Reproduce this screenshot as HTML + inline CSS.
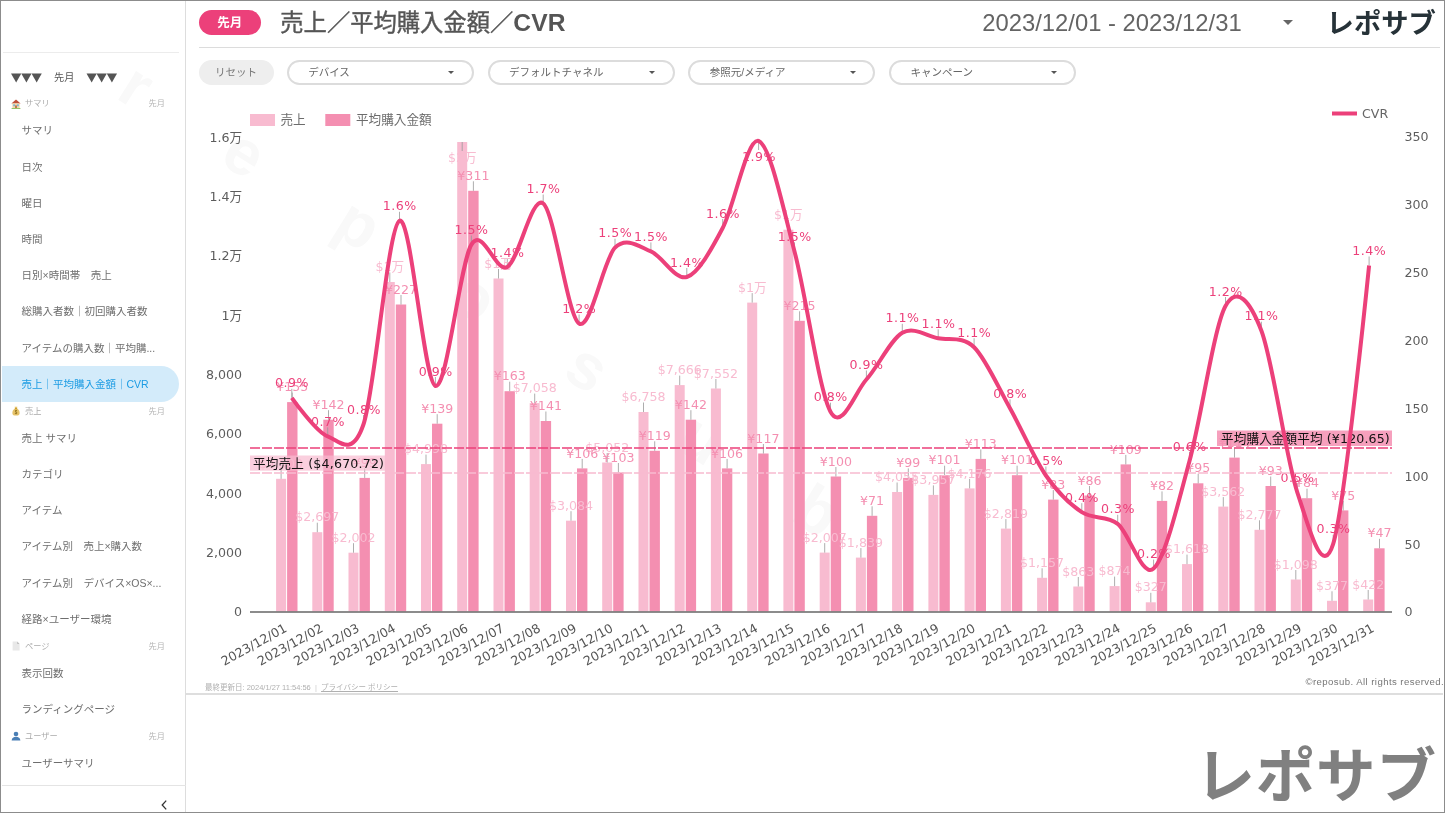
<!DOCTYPE html>
<html lang="ja"><head><meta charset="utf-8"><title>売上／平均購入金額／CVR</title>
<style>
*{box-sizing:border-box;margin:0;padding:0}
html,body{width:1445px;height:813px;overflow:hidden;background:#fff}
body{position:relative;font-family:"Liberation Sans","Noto Sans CJK JP",sans-serif;color:#666}
.abs{position:absolute}
.frame{position:absolute;left:0;top:0;width:1445px;height:813px;border-style:solid;border-color:#8c8c8c;border-width:1.2px 1.7px 1.6px 1.5px;pointer-events:none;z-index:50}
.wmk{position:absolute;left:0;top:0;z-index:0}
.side{position:absolute;left:0;top:0;width:186px;height:813px;border-right:1px solid #ddd;z-index:2}
.side .hr1{position:absolute;left:3px;top:52px;width:176px;height:1px;background:#ececec}
.side .hr2{position:absolute;left:2px;top:784.6px;width:184px;height:1px;background:#e4e4e4}
.side .hd{position:absolute;left:11px;top:66.6px;font-size:10.2px;line-height:20px;color:#555;white-space:nowrap}
  .tri{display:inline-block;transform:scaleY(.88);font-family:"DejaVu Sans",sans-serif;font-size:13.4px;letter-spacing:-.1px;position:relative;top:.5px}
.hm{margin:0 12px 0 12.4px}
.side .list{position:absolute;left:0;top:94.7px;width:186px}
.sec{height:17.8px;position:relative;font-size:8.2px;line-height:18px;color:#aaa;white-space:nowrap}
.sec .ic{position:absolute;left:11px;top:4px;width:10px;height:10px}
.sec .st{position:absolute;left:25px;top:.8px}
.sec .sm{position:absolute;left:148.6px;top:.8px;color:#b5b5b5}
.it{height:36.2px;line-height:36.3px;padding-left:21.5px;font-size:10.5px;color:#6e6e6e;white-space:nowrap}
.it.act{background:#d3ebfa;color:#1a9be3;line-height:36.8px;width:177px;margin-left:2px;padding-left:19.5px;border-radius:0 18px 18px 0}
.chev{position:absolute;left:159px;top:798px;width:10px;height:14px}
.badge{position:absolute;left:198.5px;top:9.6px;width:62.5px;height:25px;border-radius:13px;background:#EC407A;color:#fff;font-weight:bold;font-size:12.5px;line-height:27.2px;text-align:center}
.title{position:absolute;left:280.3px;top:5px;font-size:23.3px;line-height:36px;color:#555;white-space:nowrap;font-weight:400;-webkit-text-stroke:.4px #555}
.title b{font-weight:bold;font-size:24.6px;letter-spacing:.2px;-webkit-text-stroke:0}
.date{position:absolute;left:982.3px;top:4.5px;font-size:23.8px;line-height:36px;color:#646464;white-space:nowrap}
.caret{position:absolute;width:0;height:0;border-style:solid;border-color:#666 transparent transparent transparent}
.logo{position:absolute;left:1326.6px;top:4px;font-size:27.3px;line-height:40px;font-weight:bold;color:#263238;white-space:nowrap}
.hline{position:absolute;left:198.5px;top:46.8px;width:1241px;height:1.2px;background:#dcdcdc}
.reset{position:absolute;left:198.5px;top:60.2px;width:75px;height:24.5px;border-radius:13px;background:#eee;color:#777;font-size:10.5px;line-height:25.2px;text-align:center}
.dd{position:absolute;top:60px;width:187px;height:24.6px;border:2px solid #dcdcdc;border-radius:13px;font-size:10.5px;line-height:20px;color:#666;padding-left:19.5px;white-space:nowrap;background:#fff}
.dd i{position:absolute;left:159.5px;top:9px;width:0;height:0;border-style:solid;border-width:3px 3px 0 3px;border-color:#555 transparent transparent transparent}
.chart{position:absolute;left:0;top:0;z-index:1}
.foot{position:absolute;left:205px;top:681.5px;font-size:7.5px;line-height:12px;color:#b0b0b0;white-space:nowrap;z-index:3}
.foot u{text-decoration:underline}
.copy{position:absolute;left:1305.5px;top:675px;font-size:9.6px;line-height:14px;color:#777;white-space:nowrap;letter-spacing:.42px;z-index:3}
.fline{position:absolute;left:186px;top:693.4px;width:1257px;height:1.4px;background:#dedede;z-index:3}
.biglogo{position:absolute;left:1195.5px;top:739px;font-size:59.5px;letter-spacing:.8px;line-height:76px;font-weight:bold;color:#808080;white-space:nowrap;z-index:3}
</style></head><body>
<svg class="wmk" width="1445" height="813" viewBox="0 0 1445 813"><text transform="translate(114.6 97.5) rotate(32)" font-family="'Liberation Sans', sans-serif" font-weight="bold" font-size="64" letter-spacing="97" fill="#f9f9f9">reposub</text></svg>
<svg class="chart" width="1445" height="700" viewBox="0 0 1445 700" font-family="'DejaVu Sans', 'Noto Sans CJK JP', sans-serif" font-size="12.6">
<rect x="250" y="114" width="25" height="12" fill="#F8BBD0"/><text x="280.5" y="124.3" fill="#6c6c6c" class="jp">売上</text>
<rect x="325.3" y="114" width="25" height="12" fill="#F48FB1"/><text x="356" y="124.3" fill="#6c6c6c" class="jp">平均購入金額</text>
<line x1="1332" y1="113.5" x2="1357" y2="113.5" stroke="#EC407A" stroke-width="4"/><text x="1362" y="117.8" fill="#666">CVR</text>
<text x="242" y="616.3" text-anchor="end" fill="#5c5c5c">0</text>
<text x="242" y="557" text-anchor="end" fill="#5c5c5c">2,000</text>
<text x="242" y="497.6" text-anchor="end" fill="#5c5c5c">4,000</text>
<text x="242" y="438.3" text-anchor="end" fill="#5c5c5c">6,000</text>
<text x="242" y="378.9" text-anchor="end" fill="#5c5c5c">8,000</text>
<text x="242" y="319.6" text-anchor="end" fill="#5c5c5c">1万</text>
<text x="242" y="260.2" text-anchor="end" fill="#5c5c5c">1.2万</text>
<text x="242" y="200.9" text-anchor="end" fill="#5c5c5c">1.4万</text>
<text x="242" y="141.5" text-anchor="end" fill="#5c5c5c">1.6万</text>
<text x="1404.5" y="616.3" fill="#5c5c5c">0</text>
<text x="1404.5" y="548.5" fill="#5c5c5c">50</text>
<text x="1404.5" y="480.6" fill="#5c5c5c">100</text>
<text x="1404.5" y="412.8" fill="#5c5c5c">150</text>
<text x="1404.5" y="344.9" fill="#5c5c5c">200</text>
<text x="1404.5" y="277.1" fill="#5c5c5c">250</text>
<text x="1404.5" y="209.2" fill="#5c5c5c">300</text>
<text x="1404.5" y="141.4" fill="#5c5c5c">350</text>
<rect x="276.1" y="478.8" width="10" height="133.2" fill="#F8BBD0"/>
<rect x="287.1" y="402.1" width="10.4" height="209.9" fill="#F48FB1"/>
<rect x="312.3" y="532.2" width="10" height="79.8" fill="#F8BBD0"/>
<rect x="323.3" y="419.7" width="10.4" height="192.3" fill="#F48FB1"/>
<rect x="348.5" y="552.7" width="10" height="59.3" fill="#F8BBD0"/>
<rect x="359.5" y="477.9" width="10.4" height="134.1" fill="#F48FB1"/>
<rect x="384.8" y="282" width="10" height="330" fill="#F8BBD0"/>
<rect x="395.8" y="304.5" width="10.4" height="307.5" fill="#F48FB1"/>
<rect x="421" y="464.1" width="10" height="147.9" fill="#F8BBD0"/>
<rect x="432" y="423.7" width="10.4" height="188.3" fill="#F48FB1"/>
<rect x="457.2" y="142" width="10" height="470" fill="#F8BBD0"/>
<rect x="468.2" y="190.8" width="10.4" height="421.2" fill="#F48FB1"/>
<rect x="493.5" y="278.5" width="10" height="333.5" fill="#F8BBD0"/>
<rect x="504.5" y="391.2" width="10.4" height="220.8" fill="#F48FB1"/>
<rect x="529.7" y="403.1" width="10" height="208.9" fill="#F8BBD0"/>
<rect x="540.7" y="421" width="10.4" height="191" fill="#F48FB1"/>
<rect x="566" y="520.7" width="10" height="91.3" fill="#F8BBD0"/>
<rect x="577" y="468.4" width="10.4" height="143.6" fill="#F48FB1"/>
<rect x="602.2" y="462.5" width="10" height="149.5" fill="#F8BBD0"/>
<rect x="613.2" y="472.5" width="10.4" height="139.5" fill="#F48FB1"/>
<rect x="638.5" y="412" width="10" height="200" fill="#F8BBD0"/>
<rect x="649.5" y="450.8" width="10.4" height="161.2" fill="#F48FB1"/>
<rect x="674.7" y="385.1" width="10" height="226.9" fill="#F8BBD0"/>
<rect x="685.7" y="419.7" width="10.4" height="192.3" fill="#F48FB1"/>
<rect x="710.9" y="388.5" width="10" height="223.5" fill="#F8BBD0"/>
<rect x="721.9" y="468.4" width="10.4" height="143.6" fill="#F48FB1"/>
<rect x="747.2" y="302.6" width="10" height="309.4" fill="#F8BBD0"/>
<rect x="758.2" y="453.5" width="10.4" height="158.5" fill="#F48FB1"/>
<rect x="783.4" y="229.7" width="10" height="382.3" fill="#F8BBD0"/>
<rect x="794.4" y="320.8" width="10.4" height="291.2" fill="#F48FB1"/>
<rect x="819.7" y="552.6" width="10" height="59.4" fill="#F8BBD0"/>
<rect x="830.7" y="476.5" width="10.4" height="135.5" fill="#F48FB1"/>
<rect x="855.9" y="557.6" width="10" height="54.4" fill="#F8BBD0"/>
<rect x="866.9" y="515.8" width="10.4" height="96.2" fill="#F48FB1"/>
<rect x="892.1" y="492" width="10" height="120" fill="#F8BBD0"/>
<rect x="903.1" y="477.9" width="10.4" height="134.1" fill="#F48FB1"/>
<rect x="928.4" y="494.9" width="10" height="117.1" fill="#F8BBD0"/>
<rect x="939.4" y="475.2" width="10.4" height="136.8" fill="#F48FB1"/>
<rect x="964.6" y="488.4" width="10" height="123.6" fill="#F8BBD0"/>
<rect x="975.6" y="458.9" width="10.4" height="153.1" fill="#F48FB1"/>
<rect x="1000.9" y="528.6" width="10" height="83.4" fill="#F8BBD0"/>
<rect x="1011.9" y="475.2" width="10.4" height="136.8" fill="#F48FB1"/>
<rect x="1037.1" y="577.8" width="10" height="34.2" fill="#F8BBD0"/>
<rect x="1048.1" y="499.6" width="10.4" height="112.4" fill="#F48FB1"/>
<rect x="1073.3" y="586.5" width="10" height="25.5" fill="#F8BBD0"/>
<rect x="1084.3" y="495.5" width="10.4" height="116.5" fill="#F48FB1"/>
<rect x="1109.6" y="586.1" width="10" height="25.9" fill="#F8BBD0"/>
<rect x="1120.6" y="464.4" width="10.4" height="147.6" fill="#F48FB1"/>
<rect x="1145.8" y="602.3" width="10" height="9.7" fill="#F8BBD0"/>
<rect x="1156.8" y="500.9" width="10.4" height="111.1" fill="#F48FB1"/>
<rect x="1182" y="564.1" width="10" height="47.9" fill="#F8BBD0"/>
<rect x="1193" y="483.3" width="10.4" height="128.7" fill="#F48FB1"/>
<rect x="1218.3" y="506.6" width="10" height="105.4" fill="#F8BBD0"/>
<rect x="1229.3" y="457.6" width="10.4" height="154.4" fill="#F48FB1"/>
<rect x="1254.5" y="529.8" width="10" height="82.2" fill="#F8BBD0"/>
<rect x="1265.5" y="486" width="10.4" height="126" fill="#F48FB1"/>
<rect x="1290.8" y="579.5" width="10" height="32.5" fill="#F8BBD0"/>
<rect x="1301.8" y="498.2" width="10.4" height="113.8" fill="#F48FB1"/>
<rect x="1327" y="600.8" width="10" height="11.2" fill="#F8BBD0"/>
<rect x="1338" y="510.4" width="10.4" height="101.6" fill="#F48FB1"/>
<rect x="1363.2" y="599.5" width="10" height="12.5" fill="#F8BBD0"/>
<rect x="1374.2" y="548.3" width="10.4" height="63.7" fill="#F48FB1"/>
<rect x="250" y="611.1" width="1142" height="1.8" fill="#808080"/>
<g stroke="#999" stroke-width="1" stroke-opacity="0.8">
<line x1="281.1" y1="469.3" x2="281.1" y2="478.8"/>
<line x1="317.3" y1="522.7" x2="317.3" y2="532.2"/>
<line x1="353.5" y1="543.2" x2="353.5" y2="552.7"/>
<line x1="389.8" y1="272.5" x2="389.8" y2="282"/>
<line x1="426" y1="454.6" x2="426" y2="464.1"/>
<line x1="462.2" y1="142" x2="462.2" y2="151"/>
<line x1="498.5" y1="269" x2="498.5" y2="278.5"/>
<line x1="534.7" y1="393.6" x2="534.7" y2="403.1"/>
<line x1="571" y1="511.2" x2="571" y2="520.7"/>
<line x1="607.2" y1="453" x2="607.2" y2="462.5"/>
<line x1="643.5" y1="402.5" x2="643.5" y2="412"/>
<line x1="679.7" y1="375.6" x2="679.7" y2="385.1"/>
<line x1="715.9" y1="379" x2="715.9" y2="388.5"/>
<line x1="752.2" y1="293.1" x2="752.2" y2="302.6"/>
<line x1="788.4" y1="220.2" x2="788.4" y2="229.7"/>
<line x1="824.7" y1="543.1" x2="824.7" y2="552.6"/>
<line x1="860.9" y1="548.1" x2="860.9" y2="557.6"/>
<line x1="897.1" y1="482.5" x2="897.1" y2="492"/>
<line x1="933.4" y1="485.4" x2="933.4" y2="494.9"/>
<line x1="969.6" y1="478.9" x2="969.6" y2="488.4"/>
<line x1="1005.9" y1="519.1" x2="1005.9" y2="528.6"/>
<line x1="1042.1" y1="568.3" x2="1042.1" y2="577.8"/>
<line x1="1078.3" y1="577" x2="1078.3" y2="586.5"/>
<line x1="1114.6" y1="576.6" x2="1114.6" y2="586.1"/>
<line x1="1150.8" y1="592.8" x2="1150.8" y2="602.3"/>
<line x1="1187" y1="554.6" x2="1187" y2="564.1"/>
<line x1="1223.3" y1="497.1" x2="1223.3" y2="506.6"/>
<line x1="1259.5" y1="520.3" x2="1259.5" y2="529.8"/>
<line x1="1295.8" y1="570" x2="1295.8" y2="579.5"/>
<line x1="1332" y1="591.3" x2="1332" y2="600.8"/>
<line x1="1368.2" y1="590" x2="1368.2" y2="599.5"/>
<line x1="292.2" y1="392.6" x2="292.2" y2="402.1"/>
<line x1="328.5" y1="410.2" x2="328.5" y2="419.7"/>
<line x1="364.7" y1="468.4" x2="364.7" y2="477.9"/>
<line x1="401" y1="295" x2="401" y2="304.5"/>
<line x1="437.2" y1="414.2" x2="437.2" y2="423.7"/>
<line x1="473.4" y1="181.3" x2="473.4" y2="190.8"/>
<line x1="509.7" y1="381.7" x2="509.7" y2="391.2"/>
<line x1="545.9" y1="411.5" x2="545.9" y2="421"/>
<line x1="582.2" y1="458.9" x2="582.2" y2="468.4"/>
<line x1="618.4" y1="463" x2="618.4" y2="472.5"/>
<line x1="654.7" y1="441.3" x2="654.7" y2="450.8"/>
<line x1="690.9" y1="410.2" x2="690.9" y2="419.7"/>
<line x1="727.1" y1="458.9" x2="727.1" y2="468.4"/>
<line x1="763.4" y1="444" x2="763.4" y2="453.5"/>
<line x1="799.6" y1="311.3" x2="799.6" y2="320.8"/>
<line x1="835.9" y1="467" x2="835.9" y2="476.5"/>
<line x1="872.1" y1="506.3" x2="872.1" y2="515.8"/>
<line x1="908.3" y1="468.4" x2="908.3" y2="477.9"/>
<line x1="944.6" y1="465.7" x2="944.6" y2="475.2"/>
<line x1="980.8" y1="449.4" x2="980.8" y2="458.9"/>
<line x1="1017.1" y1="465.7" x2="1017.1" y2="475.2"/>
<line x1="1053.3" y1="490.1" x2="1053.3" y2="499.6"/>
<line x1="1089.5" y1="486" x2="1089.5" y2="495.5"/>
<line x1="1125.8" y1="454.9" x2="1125.8" y2="464.4"/>
<line x1="1162" y1="491.4" x2="1162" y2="500.9"/>
<line x1="1198.2" y1="473.8" x2="1198.2" y2="483.3"/>
<line x1="1234.5" y1="448.1" x2="1234.5" y2="457.6"/>
<line x1="1270.7" y1="476.5" x2="1270.7" y2="486"/>
<line x1="1307" y1="488.7" x2="1307" y2="498.2"/>
<line x1="1343.2" y1="500.9" x2="1343.2" y2="510.4"/>
<line x1="1379.5" y1="538.8" x2="1379.5" y2="548.3"/>
<line x1="291.8" y1="388.8" x2="291.8" y2="397.8"/>
<line x1="327.7" y1="427.4" x2="327.7" y2="436.4"/>
<line x1="363.6" y1="415" x2="363.6" y2="424"/>
<line x1="399.5" y1="211.8" x2="399.5" y2="220.8"/>
<line x1="435.4" y1="377" x2="435.4" y2="386"/>
<line x1="471.4" y1="235.6" x2="471.4" y2="244.6"/>
<line x1="507.3" y1="258" x2="507.3" y2="267"/>
<line x1="543.2" y1="194.5" x2="543.2" y2="203.5"/>
<line x1="579.1" y1="314.5" x2="579.1" y2="323.5"/>
<line x1="615" y1="238.7" x2="615" y2="247.7"/>
<line x1="650.9" y1="242.4" x2="650.9" y2="251.4"/>
<line x1="686.8" y1="268" x2="686.8" y2="277"/>
<line x1="722.7" y1="219" x2="722.7" y2="228"/>
<line x1="758.6" y1="141" x2="758.6" y2="150"/>
<line x1="794.5" y1="242.4" x2="794.5" y2="251.4"/>
<line x1="830.5" y1="402.7" x2="830.5" y2="411.7"/>
<line x1="866.4" y1="370.5" x2="866.4" y2="379.5"/>
<line x1="902.3" y1="323.8" x2="902.3" y2="332.8"/>
<line x1="938.2" y1="329.3" x2="938.2" y2="338.3"/>
<line x1="974.1" y1="338.2" x2="974.1" y2="347.2"/>
<line x1="1010" y1="399.3" x2="1010" y2="408.3"/>
<line x1="1045.9" y1="466.5" x2="1045.9" y2="475.5"/>
<line x1="1081.8" y1="503.2" x2="1081.8" y2="512.2"/>
<line x1="1117.7" y1="514.8" x2="1117.7" y2="523.8"/>
<line x1="1153.6" y1="559.6" x2="1153.6" y2="568.6"/>
<line x1="1189.5" y1="452" x2="1189.5" y2="461"/>
<line x1="1225.5" y1="297" x2="1225.5" y2="306"/>
<line x1="1261.4" y1="321.7" x2="1261.4" y2="330.7"/>
<line x1="1297.3" y1="483.3" x2="1297.3" y2="492.3"/>
<line x1="1333.2" y1="534.8" x2="1333.2" y2="543.8"/>
<line x1="1369.1" y1="256.5" x2="1369.1" y2="265.5"/>
</g>
<g text-anchor="middle">
<text x="281.1" y="467.9" fill="#F8BBD0">$4,500</text>
<text x="317.3" y="521.3" fill="#F8BBD0">$2,697</text>
<text x="353.5" y="541.8" fill="#F8BBD0">$2,002</text>
<text x="389.8" y="271.1" fill="#F8BBD0">$1万</text>
<text x="426" y="453.2" fill="#F8BBD0">$4,998</text>
<text x="462.2" y="162.1" fill="#F8BBD0">$2万</text>
<text x="498.5" y="267.6" fill="#F8BBD0">$1万</text>
<text x="534.7" y="392.2" fill="#F8BBD0">$7,058</text>
<text x="571" y="509.8" fill="#F8BBD0">$3,084</text>
<text x="607.2" y="451.6" fill="#F8BBD0">$5,052</text>
<text x="643.5" y="401.1" fill="#F8BBD0">$6,758</text>
<text x="679.7" y="374.2" fill="#F8BBD0">$7,666</text>
<text x="715.9" y="377.6" fill="#F8BBD0">$7,552</text>
<text x="752.2" y="291.7" fill="#F8BBD0">$1万</text>
<text x="788.4" y="218.8" fill="#F8BBD0">$1万</text>
<text x="824.7" y="541.7" fill="#F8BBD0">$2,007</text>
<text x="860.9" y="546.7" fill="#F8BBD0">$1,839</text>
<text x="897.1" y="481.1" fill="#F8BBD0">$4,055</text>
<text x="933.4" y="484" fill="#F8BBD0">$3,957</text>
<text x="969.6" y="477.5" fill="#F8BBD0">$4,176</text>
<text x="1005.9" y="517.7" fill="#F8BBD0">$2,819</text>
<text x="1042.1" y="566.9" fill="#F8BBD0">$1,157</text>
<text x="1078.3" y="575.6" fill="#F8BBD0">$863</text>
<text x="1114.6" y="575.2" fill="#F8BBD0">$874</text>
<text x="1150.8" y="591.4" fill="#F8BBD0">$327</text>
<text x="1187" y="553.2" fill="#F8BBD0">$1,618</text>
<text x="1223.3" y="495.7" fill="#F8BBD0">$3,562</text>
<text x="1259.5" y="518.9" fill="#F8BBD0">$2,777</text>
<text x="1295.8" y="568.6" fill="#F8BBD0">$1,098</text>
<text x="1332" y="589.9" fill="#F8BBD0">$377</text>
<text x="1368.2" y="588.6" fill="#F8BBD0">$422</text>
<text x="292.2" y="391.2" fill="#F48FB1">¥155</text>
<text x="328.5" y="408.8" fill="#F48FB1">¥142</text>
<text x="364.7" y="467" fill="#F48FB1">¥99</text>
<text x="401" y="293.6" fill="#F48FB1">¥227</text>
<text x="437.2" y="412.8" fill="#F48FB1">¥139</text>
<text x="473.4" y="179.9" fill="#F48FB1">¥311</text>
<text x="509.7" y="380.3" fill="#F48FB1">¥163</text>
<text x="545.9" y="410.1" fill="#F48FB1">¥141</text>
<text x="582.2" y="457.5" fill="#F48FB1">¥106</text>
<text x="618.4" y="461.6" fill="#F48FB1">¥103</text>
<text x="654.7" y="439.9" fill="#F48FB1">¥119</text>
<text x="690.9" y="408.8" fill="#F48FB1">¥142</text>
<text x="727.1" y="457.5" fill="#F48FB1">¥106</text>
<text x="763.4" y="442.6" fill="#F48FB1">¥117</text>
<text x="799.6" y="309.9" fill="#F48FB1">¥215</text>
<text x="835.9" y="465.6" fill="#F48FB1">¥100</text>
<text x="872.1" y="504.9" fill="#F48FB1">¥71</text>
<text x="908.3" y="467" fill="#F48FB1">¥99</text>
<text x="944.6" y="464.3" fill="#F48FB1">¥101</text>
<text x="980.8" y="448" fill="#F48FB1">¥113</text>
<text x="1017.1" y="464.3" fill="#F48FB1">¥101</text>
<text x="1053.3" y="488.7" fill="#F48FB1">¥83</text>
<text x="1089.5" y="484.6" fill="#F48FB1">¥86</text>
<text x="1125.8" y="453.5" fill="#F48FB1">¥109</text>
<text x="1162" y="490" fill="#F48FB1">¥82</text>
<text x="1198.2" y="472.4" fill="#F48FB1">¥95</text>
<text x="1234.5" y="446.7" fill="#F48FB1">¥114</text>
<text x="1270.7" y="475.1" fill="#F48FB1">¥93</text>
<text x="1307" y="487.3" fill="#F48FB1">¥84</text>
<text x="1343.2" y="499.5" fill="#F48FB1">¥75</text>
<text x="1379.5" y="537.4" fill="#F48FB1">¥47</text>
<text x="292.1" y="387.4" fill="#EC407A" letter-spacing=".5">0.9%</text>
<text x="328" y="426" fill="#EC407A" letter-spacing=".5">0.7%</text>
<text x="363.9" y="413.6" fill="#EC407A" letter-spacing=".5">0.8%</text>
<text x="399.8" y="210.4" fill="#EC407A" letter-spacing=".5">1.6%</text>
<text x="435.7" y="375.6" fill="#EC407A" letter-spacing=".5">0.9%</text>
<text x="471.6" y="234.2" fill="#EC407A" letter-spacing=".5">1.5%</text>
<text x="507.5" y="256.6" fill="#EC407A" letter-spacing=".5">1.4%</text>
<text x="543.4" y="193.1" fill="#EC407A" letter-spacing=".5">1.7%</text>
<text x="579.3" y="313.1" fill="#EC407A" letter-spacing=".5">1.2%</text>
<text x="615.2" y="237.3" fill="#EC407A" letter-spacing=".5">1.5%</text>
<text x="651.1" y="241" fill="#EC407A" letter-spacing=".5">1.5%</text>
<text x="687.1" y="266.6" fill="#EC407A" letter-spacing=".5">1.4%</text>
<text x="723" y="217.6" fill="#EC407A" letter-spacing=".5">1.6%</text>
<text x="758.9" y="161.1" fill="#EC407A" letter-spacing=".5">1.9%</text>
<text x="794.8" y="241" fill="#EC407A" letter-spacing=".5">1.5%</text>
<text x="830.7" y="401.3" fill="#EC407A" letter-spacing=".5">0.8%</text>
<text x="866.6" y="369.1" fill="#EC407A" letter-spacing=".5">0.9%</text>
<text x="902.5" y="322.4" fill="#EC407A" letter-spacing=".5">1.1%</text>
<text x="938.4" y="327.9" fill="#EC407A" letter-spacing=".5">1.1%</text>
<text x="974.3" y="336.8" fill="#EC407A" letter-spacing=".5">1.1%</text>
<text x="1010.2" y="397.9" fill="#EC407A" letter-spacing=".5">0.8%</text>
<text x="1046.2" y="465.1" fill="#EC407A" letter-spacing=".5">0.5%</text>
<text x="1082.1" y="501.8" fill="#EC407A" letter-spacing=".5">0.4%</text>
<text x="1118" y="513.4" fill="#EC407A" letter-spacing=".5">0.3%</text>
<text x="1153.9" y="558.2" fill="#EC407A" letter-spacing=".5">0.2%</text>
<text x="1189.8" y="450.6" fill="#EC407A" letter-spacing=".5">0.6%</text>
<text x="1225.7" y="295.6" fill="#EC407A" letter-spacing=".5">1.2%</text>
<text x="1261.6" y="320.3" fill="#EC407A" letter-spacing=".5">1.1%</text>
<text x="1297.5" y="481.9" fill="#EC407A" letter-spacing=".5">0.5%</text>
<text x="1333.4" y="533.4" fill="#EC407A" letter-spacing=".5">0.3%</text>
<text x="1369.3" y="255.1" fill="#EC407A" letter-spacing=".5">1.4%</text>
</g>
<line x1="250" y1="473.1" x2="1392" y2="473.1" stroke="#F8BBD0" stroke-width="1.5" stroke-dasharray="10 2"/>
<line x1="250" y1="448.1" x2="1392" y2="448.1" stroke="#EC407A" stroke-width="1.5" stroke-dasharray="10 2"/>
<rect x="250" y="455.5" width="135" height="15.2" fill="#F8BBD0" fill-opacity="0.7"/><text x="253" y="467.5" fill="#111" letter-spacing=".18">平均売上 ($4,670.72)</text>
<rect x="1217" y="430.5" width="175" height="15.5" fill="#F48FB1" fill-opacity="0.85"/><text x="1221" y="442.5" fill="#111" letter-spacing=".12">平均購入金額平均 (¥120.65)</text>
<path d="M291.8 397.8C291.8 397.8 316.2 432.2 327.7 436.4C339.2 440.6 352.1 458.5 363.6 424C375.1 389.5 388 226.9 399.5 220.8C411 214.7 423.9 382.2 435.4 386C446.9 389.8 459.9 263.6 471.4 244.6C482.8 225.6 495.8 273.6 507.3 267C518.8 260.4 531.7 194.5 543.2 203.5C554.7 212.5 567.6 316.4 579.1 323.5C590.6 330.6 603.5 259.2 615 247.7C626.5 236.2 639.4 246.7 650.9 251.4C662.4 256.1 675.3 280.7 686.8 277C698.3 273.3 711.2 249.8 722.7 228C734.2 206.2 747.1 137.3 758.6 141C770.1 144.7 783 208.1 794.5 251.4C806 294.7 819 391.2 830.5 411.7C841.9 432.2 854.9 392.1 866.4 379.5C877.9 366.9 890.8 339.4 902.3 332.8C913.8 326.2 926.7 336 938.2 338.3C949.7 340.6 962.6 336 974.1 347.2C985.6 358.4 998.5 387.8 1010 408.3C1021.5 428.8 1034.4 458.9 1045.9 475.5C1057.4 492.1 1070.3 504.5 1081.8 512.2C1093.3 519.9 1106.2 514.8 1117.7 523.8C1129.2 532.8 1142.1 578.6 1153.6 568.6C1165.1 558.6 1178.1 503 1189.5 461C1201 419 1214 326.8 1225.5 306C1237 285.2 1249.9 300.9 1261.4 330.7C1272.9 360.5 1285.8 458.2 1297.3 492.3C1308.8 526.4 1321.7 580.1 1333.2 543.8C1344.7 507.5 1369.1 265.5 1369.1 265.5" fill="none" stroke="#EC407A" stroke-width="4" stroke-linejoin="round"/>
<text transform="translate(287.7 630.8) rotate(-29)" text-anchor="end" fill="#555">2023/12/01</text>
<text transform="translate(323.9 630.8) rotate(-29)" text-anchor="end" fill="#555">2023/12/02</text>
<text transform="translate(360.2 630.8) rotate(-29)" text-anchor="end" fill="#555">2023/12/03</text>
<text transform="translate(396.4 630.8) rotate(-29)" text-anchor="end" fill="#555">2023/12/04</text>
<text transform="translate(432.7 630.8) rotate(-29)" text-anchor="end" fill="#555">2023/12/05</text>
<text transform="translate(468.9 630.8) rotate(-29)" text-anchor="end" fill="#555">2023/12/06</text>
<text transform="translate(505.1 630.8) rotate(-29)" text-anchor="end" fill="#555">2023/12/07</text>
<text transform="translate(541.4 630.8) rotate(-29)" text-anchor="end" fill="#555">2023/12/08</text>
<text transform="translate(577.6 630.8) rotate(-29)" text-anchor="end" fill="#555">2023/12/09</text>
<text transform="translate(613.9 630.8) rotate(-29)" text-anchor="end" fill="#555">2023/12/10</text>
<text transform="translate(650.1 630.8) rotate(-29)" text-anchor="end" fill="#555">2023/12/11</text>
<text transform="translate(686.3 630.8) rotate(-29)" text-anchor="end" fill="#555">2023/12/12</text>
<text transform="translate(722.6 630.8) rotate(-29)" text-anchor="end" fill="#555">2023/12/13</text>
<text transform="translate(758.8 630.8) rotate(-29)" text-anchor="end" fill="#555">2023/12/14</text>
<text transform="translate(795.1 630.8) rotate(-29)" text-anchor="end" fill="#555">2023/12/15</text>
<text transform="translate(831.3 630.8) rotate(-29)" text-anchor="end" fill="#555">2023/12/16</text>
<text transform="translate(867.5 630.8) rotate(-29)" text-anchor="end" fill="#555">2023/12/17</text>
<text transform="translate(903.8 630.8) rotate(-29)" text-anchor="end" fill="#555">2023/12/18</text>
<text transform="translate(940 630.8) rotate(-29)" text-anchor="end" fill="#555">2023/12/19</text>
<text transform="translate(976.3 630.8) rotate(-29)" text-anchor="end" fill="#555">2023/12/20</text>
<text transform="translate(1012.5 630.8) rotate(-29)" text-anchor="end" fill="#555">2023/12/21</text>
<text transform="translate(1048.7 630.8) rotate(-29)" text-anchor="end" fill="#555">2023/12/22</text>
<text transform="translate(1085 630.8) rotate(-29)" text-anchor="end" fill="#555">2023/12/23</text>
<text transform="translate(1121.2 630.8) rotate(-29)" text-anchor="end" fill="#555">2023/12/24</text>
<text transform="translate(1157.5 630.8) rotate(-29)" text-anchor="end" fill="#555">2023/12/25</text>
<text transform="translate(1193.7 630.8) rotate(-29)" text-anchor="end" fill="#555">2023/12/26</text>
<text transform="translate(1229.9 630.8) rotate(-29)" text-anchor="end" fill="#555">2023/12/27</text>
<text transform="translate(1266.2 630.8) rotate(-29)" text-anchor="end" fill="#555">2023/12/28</text>
<text transform="translate(1302.4 630.8) rotate(-29)" text-anchor="end" fill="#555">2023/12/29</text>
<text transform="translate(1338.7 630.8) rotate(-29)" text-anchor="end" fill="#555">2023/12/30</text>
<text transform="translate(1374.9 630.8) rotate(-29)" text-anchor="end" fill="#555">2023/12/31</text>
</svg>
<div class="side">
<div class="hr1"></div>
<div class="hd"><span class="tri">▼▼▼</span><span class="hm">先月</span><span class="tri">▼▼▼</span></div>
<div class="list">
<div class="sec"><svg class="ic" viewBox="0 0 10 10"><path d="M5 .6 9.6 4.6H.4z" fill="#c0503a"/><rect x="1.4" y="4.4" width="7.2" height="4.6" fill="#f3d9a8"/><rect x="2.2" y="5.4" width="1.8" height="1.8" fill="#7db4d8"/><rect x="6" y="5.4" width="1.8" height="1.8" fill="#7db4d8"/><rect x="4.3" y="6.4" width="1.4" height="2.6" fill="#a0522d"/><rect x=".6" y="9" width="8.8" height=".8" fill="#7cb342"/></svg><span class="st">サマリ</span><span class="sm">先月</span></div>
<div class="it">サマリ</div>
<div class="it">日次</div>
<div class="it">曜日</div>
<div class="it">時間</div>
<div class="it">日別×時間帯　売上</div>
<div class="it">総購入者数｜初回購入者数</div>
<div class="it">アイテムの購入数｜平均購...</div>
<div class="it act">売上｜平均購入金額｜CVR</div>
<div class="sec"><svg class="ic" viewBox="0 0 10 10"><path d="M3.6.8h2.8L5.9 2.6C8 3.6 8.8 5.6 8.6 7.4 8.4 9 7.2 9.6 5 9.6S1.6 9 1.4 7.4C1.2 5.6 2 3.6 4.1 2.6z" fill="#e6c36a"/><path d="M3.8 2.4h2.4v.8H3.8z" fill="#b8860b"/><text x="5" y="8" font-size="4.5" text-anchor="middle" fill="#8a6a14" font-family="Liberation Sans, sans-serif" font-weight="bold">$</text></svg><span class="st">売上</span><span class="sm">先月</span></div>
<div class="it">売上 サマリ</div>
<div class="it">カテゴリ</div>
<div class="it">アイテム</div>
<div class="it">アイテム別　売上×購入数</div>
<div class="it">アイテム別　デバイス×OS×...</div>
<div class="it">経路×ユーザー環境</div>
<div class="sec"><svg class="ic" viewBox="0 0 10 10"><path d="M1.6.6h4.6L8.6 3v6.4h-7z" fill="#e8e8e8"/><path d="M6.2.6V3h2.4z" fill="#bdbdbd"/></svg><span class="st">ページ</span><span class="sm">先月</span></div>
<div class="it">表示回数</div>
<div class="it">ランディングページ</div>
<div class="sec"><svg class="ic" viewBox="0 0 10 10"><circle cx="5" cy="3" r="2.3" fill="#4a7fb5"/><path d="M.6 9.6C.8 7 2.6 5.8 5 5.8s4.2 1.2 4.4 3.8z" fill="#4a7fb5"/></svg><span class="st">ユーザー</span><span class="sm">先月</span></div>
<div class="it">ユーザーサマリ</div>
</div>
<div class="hr2"></div>
<svg class="chev" viewBox="0 0 10 14"><path d="M7.2 2.6 3.2 7l4 4.4" fill="none" stroke="#333" stroke-width="1.3"/></svg>
</div>
<div class="badge">先月</div>
<div class="title">売上／平均購入金額／<b>CVR</b></div>
<div class="date">2023/12/01 - 2023/12/31</div>
<div class="caret" style="left:1282.5px;top:19.5px;border-width:5.5px 5.5px 0 5.5px"></div>
<div class="logo">レポサブ</div>
<div class="hline"></div>
<div class="reset">リセット</div>
<div class="dd" style="left:286.7px">デバイス<i></i></div>
<div class="dd" style="left:487.5px">デフォルトチャネル<i></i></div>
<div class="dd" style="left:688.3px">参照元/メディア<i></i></div>
<div class="dd" style="left:889px">キャンペーン<i></i></div>
<div class="foot">最終更新日: 2024/1/27 11:54:56&nbsp; <span style="color:#ccc">|</span> &nbsp;<u>プライバシー ポリシー</u></div>
<div class="copy">©reposub. All rights reserved.</div>
<div class="fline"></div>
<div class="biglogo">レポサブ</div>
<div class="frame"></div>
</body></html>
